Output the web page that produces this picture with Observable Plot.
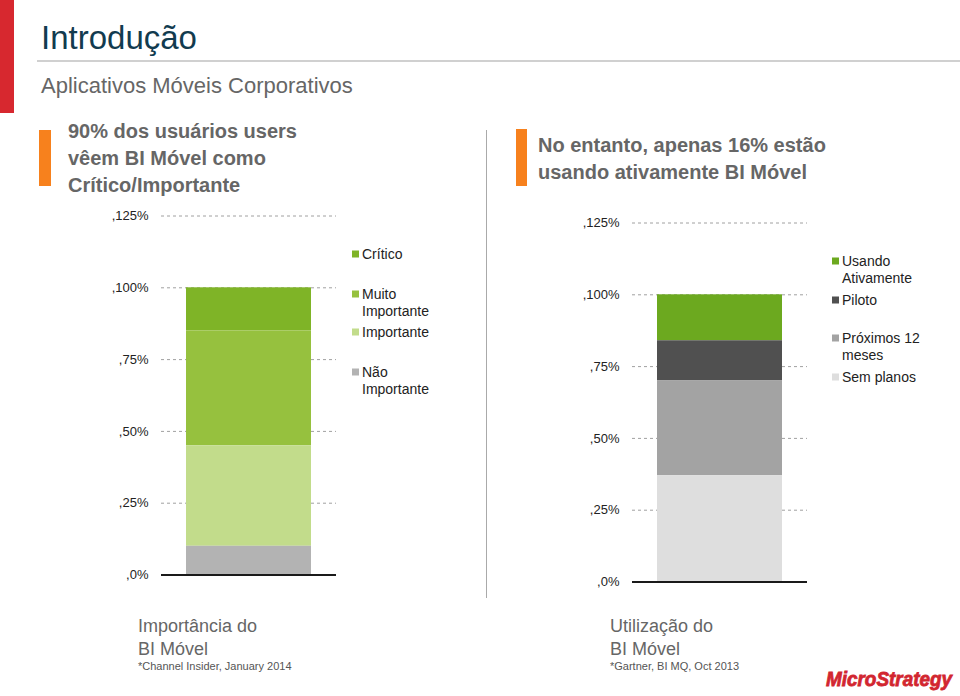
<!DOCTYPE html>
<html>
<head>
<meta charset="utf-8">
<script src="https://cdn.jsdelivr.net/npm/d3@7"></script>
<script src="https://cdn.jsdelivr.net/npm/@observablehq/plot@0.6"></script>
<style>
html, body { margin: 0; padding: 0; background: #fff; }
#page { position: relative; width: 960px; height: 696px; overflow: hidden; font-family: "Liberation Sans", Arial, sans-serif; }
#page svg.overlay { position: absolute; left: 0; top: 0; }
.chart { position: absolute; }
</style>
</head>
<body>
<div id="page"></div>
<script>
// ---------- data ----------
const importanciaCategories = ["Crítico", "Muito Importante", "Importante", "Não Importante"];
const importanciaValues = [0.15, 0.40, 0.35, 0.10];
const importanciaColors = ["#7fb427", "#96c13e", "#c2dc8b", "#b3b3b3"];
const importanciaLegend = [["Crítico"], ["Muito", "Importante"], ["Importante"], ["Não", "Importante"]];

const utilizacaoCategories = ["Usando Ativamente", "Piloto", "Próximos 12 meses", "Sem planos"];
const utilizacaoValues = [0.16, 0.14, 0.33, 0.37];
const utilizacaoColors = ["#6ca91f", "#505050", "#a3a3a3", "#dedede"];
const utilizacaoLegend = [["Usando", "Ativamente"], ["Piloto"], ["Próximos 12", "meses"], ["Sem planos"]];

const yTicks = [0, 0.25, 0.5, 0.75, 1, 1.25];
const yTickLabels = [",0%", ",25%", ",50%", ",75%", ",100%", ",125%"];

// ---------- layout ----------
const page = d3.select("#page");
const font = "'Liberation Sans', Arial, sans-serif";

function chart(group, cats, vals, colors) {
  const data = cats.map((c, i) => ({group, cat: c, value: vals[i]}));
  return Plot.plot({
    width: 240,
    height: 385,
    marginLeft: 60,
    marginRight: 5,
    marginTop: 15.5,
    marginBottom: 10.5,
    style: {fontFamily: font, fontSize: "13px", color: "#222", background: "transparent", overflow: "visible"},
    x: {domain: [group], padding: 0, axis: null},
    y: {domain: [0, 1.25], ticks: yTicks, tickFormat: d => yTickLabels[yTicks.indexOf(d)], tickSize: 0, tickPadding: 13, label: null},
    color: {domain: cats, range: colors},
    marks: [
      Plot.ruleY(yTicks.filter(d => d > 0), {stroke: "#a0a0a0", strokeDasharray: "3,3", strokeWidth: 1}),
      Plot.barY(data, {x: "group", y: "value", fill: "cat", order: cats.slice().reverse(), insetLeft: 25, insetRight: 25}),
      Plot.ruleY([0], {stroke: "#1a1a1a", strokeWidth: 2})
    ]
  });
}

const c1 = chart("Importância do BI Móvel", importanciaCategories, importanciaValues, importanciaColors);
c1.classList.add("chart");
c1.style.left = "101px"; c1.style.top = "200px";
page.node().appendChild(c1);

const c2 = chart("Utilização do BI Móvel", utilizacaoCategories, utilizacaoValues, utilizacaoColors);
c2.classList.add("chart");
c2.style.left = "572px"; c2.style.top = "207px";
page.node().appendChild(c2);

// ---------- overlay: titles, legends, captions ----------
const svg = page.append("svg").attr("class", "overlay").attr("width", 960).attr("height", 696)
  .style("font-family", font).style("pointer-events", "none");

// slide decoration
svg.append("rect").attr("x", 0).attr("y", 0).attr("width", 14).attr("height", 113).attr("fill", "#d7282f");
svg.append("text").attr("x", 41).attr("y", 49).attr("font-size", 33).attr("fill", "#123b4f").text("Introdução");
svg.append("line").attr("x1", 37).attr("x2", 960).attr("y1", 61).attr("y2", 61).attr("stroke", "#c0c0c0").attr("stroke-width", 1.5);
svg.append("text").attr("x", 41).attr("y", 93).attr("font-size", 22).attr("fill", "#666").text("Aplicativos Móveis Corporativos");

// headings
svg.append("rect").attr("x", 39).attr("y", 130).attr("width", 12).attr("height", 56).attr("fill", "#f7811d");
["90% dos usuários users", "vêem BI Móvel como", "Crítico/Importante"].forEach((t, i) => {
  svg.append("text").attr("x", 68).attr("y", 138 + i * 27).attr("font-size", 20).attr("font-weight", "bold").attr("fill", "#666").text(t);
});
svg.append("line").attr("x1", 486.5).attr("x2", 486.5).attr("y1", 130).attr("y2", 598).attr("stroke", "#aaa").attr("stroke-width", 1);
svg.append("rect").attr("x", 516).attr("y", 129).attr("width", 11).attr("height", 57).attr("fill", "#f7811d");
["No entanto, apenas 16% estão", "usando ativamente BI Móvel"].forEach((t, i) => {
  svg.append("text").attr("x", 538).attr("y", 152 + i * 27).attr("font-size", 20).attr("font-weight", "bold").attr("fill", "#666").text(t);
});

// legends
function legend(x, centers, labels, colors) {
  labels.forEach((lines, i) => {
    const cy = centers[i];
    svg.append("rect").attr("x", x).attr("y", cy - 3.5).attr("width", 7).attr("height", 7).attr("fill", colors[i]);
    lines.forEach((l, j) => {
      svg.append("text").attr("x", x + 10).attr("y", cy + 5 + j * 17).attr("font-size", 14).attr("fill", "#222").text(l);
    });
  });
}
legend(352, [254, 294, 332, 372], importanciaLegend, importanciaColors);
legend(832, [261, 300, 338, 377], utilizacaoLegend, utilizacaoColors);

// bottom captions
function caption(x, l1, l2, src) {
  svg.append("text").attr("x", x).attr("y", 632).attr("font-size", 18).attr("fill", "#666").text(l1);
  svg.append("text").attr("x", x).attr("y", 655).attr("font-size", 18).attr("fill", "#666").text(l2);
  svg.append("text").attr("x", x).attr("y", 670).attr("font-size", 11).attr("fill", "#555").text(src);
}
caption(138, "Importância do", "BI Móvel", "*Channel Insider, January 2014");
caption(610, "Utilização do", "BI Móvel", "*Gartner, BI MQ, Oct 2013");

// logo
svg.append("text").attr("x", 826).attr("y", 686).attr("font-size", 20).attr("font-weight", 900)
  .attr("font-style", "italic").attr("fill", "#d22630").attr("stroke", "#d22630").attr("stroke-width", 0.8)
  .attr("textLength", 126).attr("lengthAdjust", "spacingAndGlyphs")
  .text("MicroStrategy");
</script>
</body>
</html>
